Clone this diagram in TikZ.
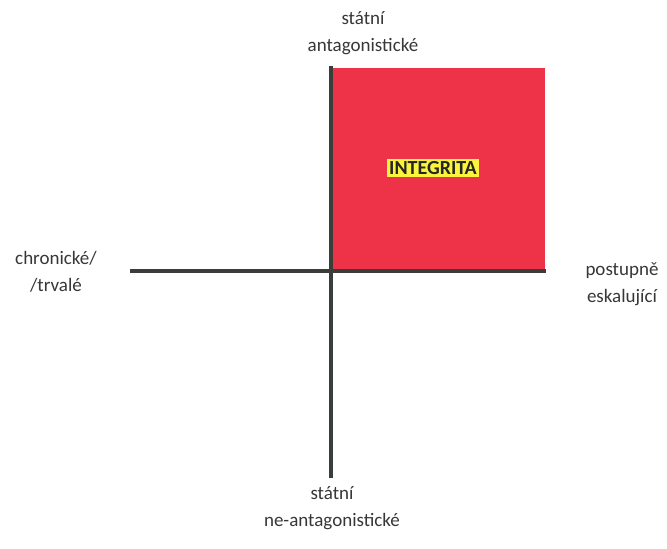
\documentclass[tikz,border=0pt]{standalone}
\usepackage{fontspec}
\setmainfont{Carlito}
\definecolor{axisgray}{RGB}{58,62,58}
\definecolor{quadred}{RGB}{238,50,72}
\definecolor{hlyellow}{RGB}{250,245,60}
\definecolor{txtgray}{RGB}{55,55,55}
\tikzset{
  axis/.style={draw=axisgray, line width=4pt},
  lbl/.style={align=center, text=txtgray, font=\fontsize{19}{27}\selectfont, inner sep=0pt},
  hl/.style={fill=hlyellow, text=black!85, font=\fontsize{20}{22}\selectfont\bfseries, inner sep=2pt}
}
\begin{document}
\begin{tikzpicture}[x=1pt,y=-1pt]
\useasboundingbox (0,0) rectangle (667,549);
\fill[fill=white] (0,0) rectangle (667,549);
\coordinate (sqtl) at (333,68);
\coordinate (sqbr) at (545,271);
\fill[quadred] (sqtl) rectangle (sqbr);
\coordinate (vtop) at (331,66);
\coordinate (vbot) at (331,478);
\coordinate (hl) at (130,271);
\coordinate (hr) at (546,271);
\draw[axis] (vtop) -- (vbot);
\draw[axis] (hl) -- (hr);
\node[hl] (integ) at (433,168) {INTEGRITA};
\node[lbl] (top) at (363,33) {státní\\antagonistické};
\node[lbl] (left) at (56,272) {chronické/\\/trvalé};
\node[lbl] (right) at (622,284) {postupně\\eskalující};
\node[lbl] (bottom) at (332,508) {státní\\ne-antagonistické};
\end{tikzpicture}
\end{document}
